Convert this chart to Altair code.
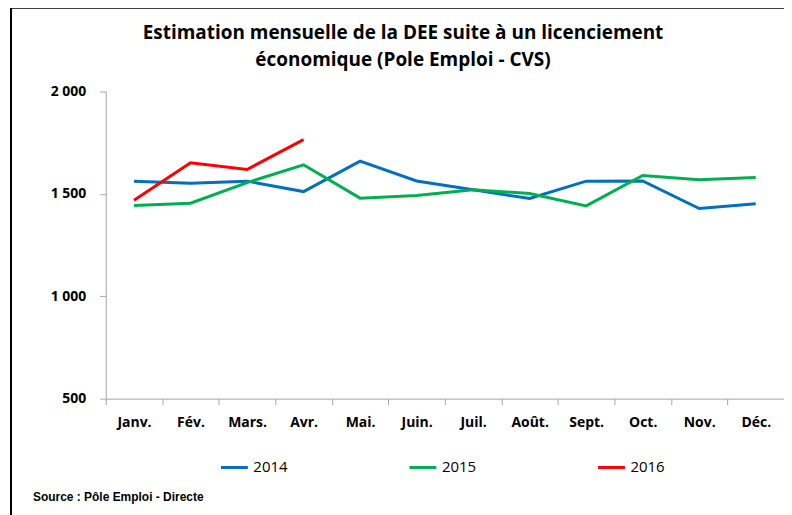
import altair as alt
import pandas as pd

months = ["Janv.", "Fév.", "Mars.", "Avr.", "Mai.", "Juin.", "Juil.", "Août.",
          "Sept.", "Oct.", "Nov.", "Déc."]
years = ["2014", "2015", "2016"]
v2014 = [1562, 1552, 1562, 1511, 1660, 1563, 1520, 1477, 1562, 1563, 1428, 1452]
v2015 = [1443, 1454, 1555, 1642, 1479, 1492, 1520, 1502, 1441, 1590, 1569, 1580]
v2016 = [1469, 1652, 1619, 1765]
colors = ["#0070C0", "#00B050", "#FF0000"]
y_ticks = [500, 1000, 1500, 2000]
title_text = ("Estimation mensuelle de la DEE suite à un licenciement\n"
              "économique (Pole Emploi - CVS)")
source_text = "Source : Pôle Emploi - Directe"

rows = []
for yr, vals in zip(years, [v2014, v2015, v2016]):
    for m, v in zip(months, vals):
        rows.append({"mois": m, "annee": yr, "valeur": v})
df = pd.DataFrame(rows)

W, H = 680, 308
AXC = "#A6A6A6"

lines = alt.Chart(df).mark_line(strokeWidth=3).encode(
    x=alt.X("mois:N", sort=months, bandPosition=0.5,
            scale=alt.Scale(type="band", paddingInner=0, paddingOuter=0),
            axis=alt.Axis(title=None, labelAngle=0, tickBand="extent",
                          domainColor=AXC, tickColor=AXC, tickSize=6,
                          labelFont="Open Sans", labelFontWeight="bold",
                          labelFontSize=14, labelColor="black", labelPadding=11,
                          grid=False)),
    y=alt.Y("valeur:Q",
            scale=alt.Scale(domain=[500, 2000], nice=False, zero=False),
            axis=alt.Axis(title=None, values=y_ticks, grid=False,
                          labelExpr="replace(format(datum.value, ','), ',', ' ')",
                          domainColor=AXC, tickColor=AXC, tickSize=6,
                          labelFont="Open Sans", labelFontWeight="bold",
                          labelFontSize=14, labelColor="black", labelPadding=14)),
    color=alt.Color("annee:N", scale=alt.Scale(domain=years, range=colors),
                    legend=alt.Legend(title=None, orient="none", legendX=114,
                                      legendY=362, direction="horizontal",
                                      symbolType="stroke", symbolStrokeWidth=3,
                                      symbolSize=729, columnPadding=115,
                                      labelFont="Open Sans", labelFontSize=15,
                                      labelColor="black", labelOffset=4)),
)

title = alt.Chart(alt.Data(values=[{"t": title_text}])).mark_text(
    align="center", baseline="middle", font="Open Sans", fontWeight="bold",
    fontSize=19, lineBreak="\n", lineHeight=28, color="black"
).encode(x=alt.value(298), y=alt.value(-59), text="t:N")

src = alt.Chart(alt.Data(values=[{"t": source_text}])).mark_text(
    align="left", baseline="middle", font="Liberation Sans",
    fontWeight="bold", fontSize=12, color="black"
).encode(x=alt.value(-73), y=alt.value(407), text="t:N")

frame = alt.Chart(alt.Data(values=[{"a": 1}])).mark_rect(
    filled=False, stroke="black", strokeWidth=2
).encode(x=alt.value(-95), x2=alt.value(W + 50), y=alt.value(-84),
         y2=alt.value(H + 300))

chart = alt.layer(frame, lines, title, src).properties(
    width=W, height=H,
    padding={"left": 98, "top": 83, "right": 0, "bottom": 116},
    autosize=alt.AutoSizeParams(type="none"),
).configure_view(strokeWidth=0)

chart.save("out.html", embed_options={"renderer": "svg", "actions": False})
